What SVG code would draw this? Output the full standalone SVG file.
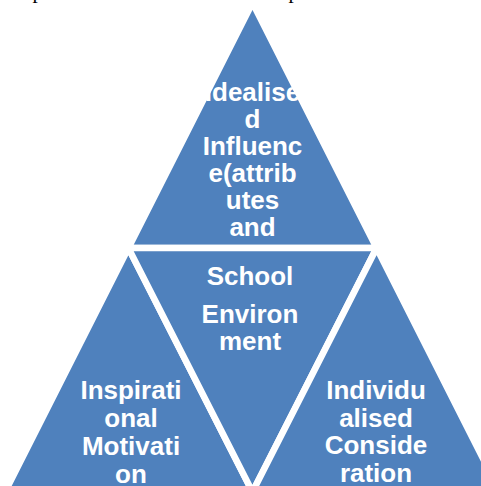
<svg xmlns="http://www.w3.org/2000/svg" width="481" height="486" viewBox="0 0 481 486">
  <style>
    .seg { fill: #4F81BD; stroke: #FFFFFF; stroke-width: 6.5; stroke-linejoin: miter; }
    .lbl { font-family: "Liberation Sans", Arial, sans-serif; font-weight: bold; font-size: 26px; fill: #FFFFFF; text-anchor: middle; }
    .body { font-family: "Liberation Serif", "Times New Roman", serif; font-size: 21px; fill: #000000; }
  </style>
  <rect width="481" height="486" fill="#FFFFFF"/>

  <!-- descenders of the line of body text above the figure -->
  <g id="body-text">
    <text class="body" x="32.5" y="-1.6">p</text>
    <text class="body" x="288.5" y="-1.6">p</text>
  </g>

  <!-- segmented pyramid: four triangles separated by white outlines -->
  <g id="idealised-influence">
    <polygon class="seg" points="252.5,2.8 128.4,248 376.6,248"/>
    <text class="lbl" x="252.5" y="101">Idealise</text>
    <text class="lbl" x="252.5" y="128">d</text>
    <text class="lbl" x="252.5" y="155">Influenc</text>
    <text class="lbl" x="252.5" y="182">e(attrib</text>
    <text class="lbl" x="252.5" y="209">utes</text>
    <text class="lbl" x="252.5" y="236">and</text>
  </g>

  <g id="inspirational-motivation">
    <polygon class="seg" points="128.4,248 5,492 252.5,492"/>
    <text class="lbl" x="131" y="399">Inspirati</text>
    <text class="lbl" x="131" y="427">onal</text>
    <text class="lbl" x="131" y="455">Motivati</text>
    <text class="lbl" x="131" y="482.5">on</text>
  </g>

  <g id="school-environment">
    <polygon class="seg" points="128.4,248 376.6,248 252.5,492"/>
    <text class="lbl" x="250" y="285">School</text>
    <text class="lbl" x="250" y="322.5">Environ</text>
    <text class="lbl" x="250" y="350">ment</text>
  </g>

  <g id="individualised-consideration">
    <polygon class="seg" points="376.6,248 252.5,492 500,492"/>
    <text class="lbl" x="376" y="399">Individu</text>
    <text class="lbl" x="376" y="426.5">alised</text>
    <text class="lbl" x="376" y="454">Conside</text>
    <text class="lbl" x="376" y="481.5">ration</text>
  </g>
</svg>
